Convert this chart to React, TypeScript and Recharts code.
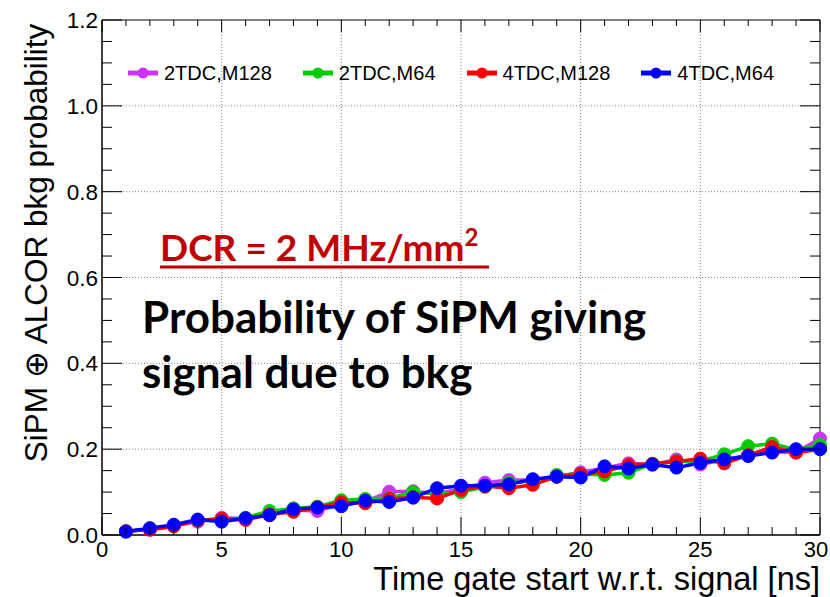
import { LineChart, Line, XAxis, YAxis, CartesianGrid, Legend, ReferenceArea } from "recharts";

// time gate start w.r.t. signal [ns]
const TIME_NS = [1, 2, 3, 4, 5, 6, 7, 8, 9, 10, 11, 12, 13, 14, 15, 16, 17, 18, 19, 20, 21, 22, 23, 24, 25, 26, 27, 28, 29, 30];

// SiPM (+) ALCOR bkg probability
const TDC2_M128 = [0.008, 0.014, 0.022, 0.031, 0.04, 0.038, 0.05, 0.058, 0.056, 0.072, 0.078, 0.101, 0.102, 0.096, 0.108, 0.122, 0.128, 0.128, 0.136, 0.146, 0.156, 0.167, 0.164, 0.176, 0.164, 0.176, 0.186, 0.194, 0.192, 0.225];
const TDC2_M64 = [0.008, 0.014, 0.022, 0.034, 0.036, 0.04, 0.056, 0.062, 0.066, 0.081, 0.084, 0.086, 0.1, 0.096, 0.1, 0.112, 0.122, 0.126, 0.14, 0.142, 0.14, 0.145, 0.166, 0.172, 0.172, 0.188, 0.207, 0.213, 0.198, 0.21];
const TDC4_M128 = [0.009, 0.012, 0.02, 0.034, 0.038, 0.035, 0.048, 0.054, 0.064, 0.076, 0.074, 0.084, 0.088, 0.085, 0.105, 0.114, 0.109, 0.117, 0.136, 0.142, 0.148, 0.163, 0.166, 0.171, 0.178, 0.167, 0.186, 0.205, 0.192, 0.2];
const TDC4_M64 = [0.008, 0.016, 0.024, 0.036, 0.031, 0.039, 0.046, 0.06, 0.064, 0.067, 0.08, 0.077, 0.087, 0.109, 0.115, 0.115, 0.118, 0.13, 0.136, 0.134, 0.16, 0.155, 0.164, 0.157, 0.168, 0.176, 0.184, 0.192, 0.2, 0.2];

const X_TICKS = [0, 1, 2, 3, 4, 5, 6, 7, 8, 9, 10, 11, 12, 13, 14, 15, 16, 17, 18, 19, 20, 21, 22, 23, 24, 25, 26, 27, 28, 29, 30];
const Y_TICKS = [0, 0.05, 0.1, 0.15, 0.2, 0.25, 0.3, 0.35, 0.4, 0.45, 0.5, 0.55, 0.6, 0.65, 0.7, 0.75, 0.8, 0.85, 0.9, 0.95, 1.0, 1.05, 1.1, 1.15, 1.2];
const X_GRID = [5, 10, 15, 20, 25];
const Y_GRID = [0.2, 0.4, 0.6, 0.8, 1.0];

const SERIES = [
  { key: "m2_128", name: "2TDC,M128", color: "#cc33ff", values: TDC2_M128 },
  { key: "m2_64", name: "2TDC,M64", color: "#00cc00", values: TDC2_M64 },
  { key: "m4_128", name: "4TDC,M128", color: "#ff0000", values: TDC4_M128 },
  { key: "m4_64", name: "4TDC,M64", color: "#0000ff", values: TDC4_M64 },
];

const data = TIME_NS.map((t, i) => {
  const row: Record<string, number> = { t };
  for (const s of SERIES) row[s.key] = s.values[i];
  return row;
});

const W = 830;
const H = 597;
const MARGIN = { top: 20, right: 10, left: 0, bottom: 0 };
const PLOT_TOP = MARGIN.top;
const PLOT_RIGHT = W - MARGIN.right;
const AXIS_FONT = "'Liberation Sans', Arial, sans-serif";
const NOTE_FONT = "Lato, 'Open Sans', sans-serif";

function XTick({ x, y, payload }: any) {
  const v = payload.value;
  const major = v % 5 === 0;
  // keep the last label inside the page
  const tx = Math.min(x, W - 14);
  return (
    <g>
      <line x1={x} x2={x} y1={y} y2={y - (major ? 18 : 8)} stroke="#000" />
      <line x1={x} x2={x} y1={PLOT_TOP} y2={PLOT_TOP + (major ? 12 : 6)} stroke="#000" />
      {major && (
        <text x={tx} y={y + 22} textAnchor="middle" fontSize={22} fontFamily={AXIS_FONT} fill="#000">
          {v}
        </text>
      )}
    </g>
  );
}

function YTick({ x, y, payload }: any) {
  const v = payload.value;
  const major = Math.round(v * 100) % 20 === 0;
  const len = major ? 20 : 10;
  return (
    <g>
      <line x1={x} x2={x + len} y1={y} y2={y} stroke="#000" />
      <line x1={PLOT_RIGHT - len} x2={PLOT_RIGHT} y1={y} y2={y} stroke="#000" />
      {major && (
        <text x={x - 4} y={y} dy="0.36em" textAnchor="end" fontSize={22.5} fontFamily={AXIS_FONT} fill="#000">
          {v.toFixed(1)}
        </text>
      )}
    </g>
  );
}

function LegendRow({ payload }: any) {
  return (
    <div style={{ display: "flex", alignItems: "center", paddingLeft: 128, height: 26, fontFamily: AXIS_FONT, fontSize: 20, color: "#000" }}>
      {(payload ?? []).map((p: any) => (
        <div key={p.value} style={{ display: "flex", alignItems: "center", marginRight: 31 }}>
          <svg width={30} height={14}>
            <line x1={0} x2={30} y1={7} y2={7} stroke={p.color} strokeWidth={5} />
            <circle cx={15} cy={7} r={5.5} fill={p.color} />
          </svg>
          <span style={{ marginLeft: 6 }}>{p.value}</span>
        </div>
      ))}
    </div>
  );
}

export default function App() {
  return (
    <div style={{ position: "absolute", left: 0, top: 0, width: W, height: H, background: "#fff" }}>
      <LineChart width={W} height={H} data={data} margin={MARGIN}>
        <CartesianGrid horizontalValues={Y_GRID} verticalValues={X_GRID} stroke="#888" strokeDasharray="1 2" />
        <XAxis
          dataKey="t"
          type="number"
          domain={[0, 30]}
          ticks={X_TICKS}
          interval={0}
          height={62}
          tickSize={0}
          tickMargin={0}
          tickLine={false}
          axisLine={{ stroke: "#000" }}
          tick={<XTick />}
        />
        <YAxis
          type="number"
          domain={[0, 1.2]}
          ticks={Y_TICKS}
          interval={0}
          width={102}
          tickSize={0}
          tickMargin={0}
          tickLine={false}
          axisLine={{ stroke: "#000" }}
          tick={<YTick />}
        />
        <ReferenceArea x1={0} x2={30} y1={0} y2={1.2} fill="none" stroke="#000" strokeWidth={1} />
        <Legend verticalAlign="middle" layout="horizontal" wrapperStyle={{ top: 60, left: 0, width: W }} content={<LegendRow />} />
        {SERIES.map((s) => (
          <Line
            key={s.key}
            dataKey={s.key}
            name={s.name}
            type="linear"
            stroke={s.color}
            strokeWidth={3.5}
            dot={{ r: 6.5, fill: s.color, stroke: s.color, strokeWidth: 1 }}
            activeDot={false}
            isAnimationActive={false}
          />
        ))}
      </LineChart>
      <svg width={W} height={H} style={{ position: "absolute", left: 0, top: 0, pointerEvents: "none" }}>
        <text x={820} y={590} textAnchor="end" fontSize={32.5} fontFamily={AXIS_FONT} fill="#000">
          Time gate start w.r.t. signal [ns]
        </text>
        <text x={47} y={243} transform="rotate(-90 47 243)" textAnchor="middle" fontSize={31.5} fontFamily={AXIS_FONT} fill="#000">
          SiPM ⊕ ALCOR bkg probability
        </text>
        <text x={160} y={261} fontSize={37} fontWeight={700} fontFamily={NOTE_FONT} fill="#c00000">
          DCR = 2 MHz/mm
          <tspan dy={-15} fontSize={24}>2</tspan>
        </text>
        <line x1={160} x2={489} y1={267} y2={267} stroke="#c00000" strokeWidth={3} />
        <text x={142} y={333} fontSize={44} fontWeight={700} fontFamily={NOTE_FONT} fill="#000">
          Probability of SiPM giving
        </text>
        <text x={142} y={388} fontSize={44} fontWeight={700} fontFamily={NOTE_FONT} fill="#000">
          signal due to bkg
        </text>
      </svg>
    </div>
  );
}
